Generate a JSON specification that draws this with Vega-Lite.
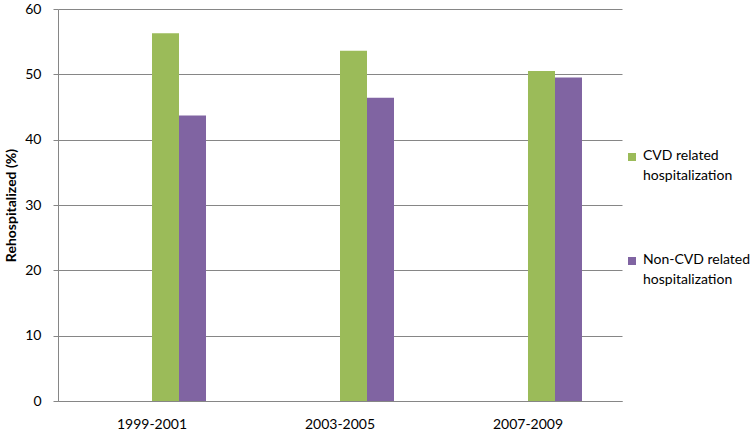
{
  "$schema": "https://vega.github.io/schema/vega-lite/v6.json",
  "width": 564,
  "height": 392,
  "autosize": {"type": "none"},
  "padding": {"left": 58, "top": 9, "right": 128, "bottom": 30},
  "background": "white",
  "config": {
    "font": "Lato",
    "view": {"stroke": null},
    "axis": {"labelFont": "Lato", "titleFont": "Lato", "labelColor": "#000000", "titleColor": "#000000"}
  },
  "data": {
    "values": [
      {"period": "1999-2001", "type": "CVD related hospitalization", "value": 56.3},
      {"period": "1999-2001", "type": "Non-CVD related hospitalization", "value": 43.7},
      {"period": "2003-2005", "type": "CVD related hospitalization", "value": 53.6},
      {"period": "2003-2005", "type": "Non-CVD related hospitalization", "value": 46.4},
      {"period": "2007-2009", "type": "CVD related hospitalization", "value": 50.5},
      {"period": "2007-2009", "type": "Non-CVD related hospitalization", "value": 49.5}
    ]
  },
  "mark": {"type": "bar"},
  "encoding": {
    "x": {
      "field": "period",
      "type": "nominal",
      "sort": null,
      "scale": {"paddingInner": 0.4255, "paddingOuter": 0.2128},
      "axis": {
        "title": null,
        "labelAngle": 0,
        "labelFontSize": 14,
        "labelPadding": 16,
        "ticks": false,
        "domainColor": "#868686",
        "domainWidth": 1,
        "grid": false
      }
    },
    "xOffset": {
      "field": "type",
      "type": "nominal",
      "scale": {
        "domain": ["s1", "s2", "CVD related hospitalization", "Non-CVD related hospitalization"],
        "paddingInner": 0,
        "paddingOuter": 0
      }
    },
    "y": {
      "field": "value",
      "type": "quantitative",
      "scale": {"domain": [0, 60], "nice": false},
      "axis": {
        "title": "Rehospitalized (%)",
        "titleFontSize": 14,
        "titleFontWeight": "bold",
        "titlePadding": 6,
        "values": [0, 10, 20, 30, 40, 50, 60],
        "labelFontSize": 14,
        "labelPadding": 12,
        "tickSize": 5,
        "tickColor": "#868686",
        "domainColor": "#868686",
        "gridColor": "#868686",
        "gridWidth": 1
      }
    },
    "color": {
      "field": "type",
      "type": "nominal",
      "scale": {
        "domain": ["CVD related hospitalization", "Non-CVD related hospitalization"],
        "range": ["#9BBB59", "#8064A2"]
      },
      "legend": {
        "title": null,
        "orient": "none",
        "legendX": 567,
        "legendY": 141,
        "padding": 0,
        "symbolType": "square",
        "symbolSize": 64,
        "symbolStrokeWidth": 0,
        "labelFontSize": 14,
        "labelOffset": 4,
        "labelColor": "#000000",
        "labelLimit": 200,
        "labelBaseline": "top",
        "rowPadding": 70,
        "labelExpr": "datum.label == 'CVD related hospitalization' ? ['CVD related', 'hospitalization'] : ['Non-CVD related', 'hospitalization']",
        "encode": {"labels": {"update": {"dy": {"value": -8}, "lineHeight": {"value": 20}}}}
      }
    }
  }
}
